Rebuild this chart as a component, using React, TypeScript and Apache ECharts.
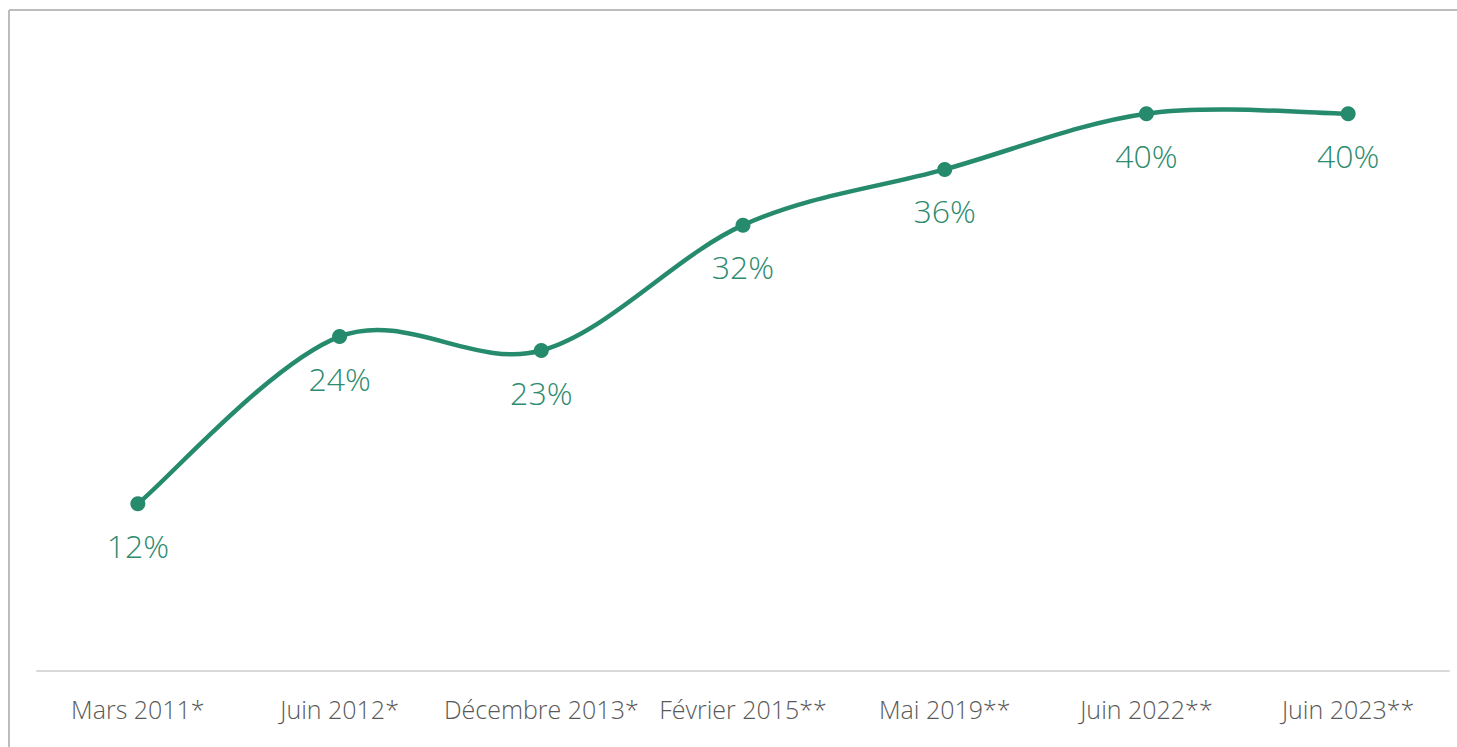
import React, { useEffect, useRef } from "react";
import * as echarts from "echarts";

const categories = ["Mars 2011*", "Juin 2012*", "Décembre 2013*", "Février 2015**", "Mai 2019**", "Juin 2022**", "Juin 2023**"];
const values = [12, 24, 23, 32, 36, 40, 40];

const GREEN = "#268a6d";

export default function App() {
  const ref = useRef<HTMLDivElement>(null);
  useEffect(() => {
    const chart = echarts.init(ref.current!, null, { renderer: "svg" });
    chart.setOption({
      animation: false,
      backgroundColor: "#ffffff",
      graphic: [
        { type: "line", shape: { x1: 9, y1: 10, x2: 1457, y2: 10 }, style: { stroke: "#bdbdbd", lineWidth: 2 } },
        { type: "line", shape: { x1: 9, y1: 10, x2: 9, y2: 747 }, style: { stroke: "#bdbdbd", lineWidth: 2 } },
      ],
      grid: { left: 37, right: 8, top: 44, bottom: 76 },
      xAxis: {
        type: "category",
        data: categories,
        boundaryGap: true,
        axisLine: { lineStyle: { color: "#d9d9d9", width: 2 } },
        axisTick: { show: false },
        axisLabel: { color: "#595959", fontSize: 25, fontFamily: "Open Sans", fontWeight: 300, margin: 25, interval: 0 },
      },
      yAxis: { type: "value", min: 0, max: 45, show: false, splitLine: { show: false } },
      series: [
        {
          type: "custom",
          data: values.map((v, i) => [i, v]),
          silent: true,
          z: 1,
          renderItem: (params: any, api: any) => {
            if (params.dataIndex !== 0) return null;
            const pts = values.map((v, i) => api.coord([i, v]));
            const n = pts.length;
            let d = `M${pts[0][0]},${pts[0][1]}`;
            for (let i = 0; i < n - 1; i++) {
              const p0 = pts[Math.max(0, i - 1)];
              const p1 = pts[i];
              const p2 = pts[i + 1];
              const p3 = pts[Math.min(n - 1, i + 2)];
              const c1x = p1[0] + (p2[0] - p0[0]) / 6;
              const c1y = p1[1] + (p2[1] - p0[1]) / 6;
              const c2x = p2[0] - (p3[0] - p1[0]) / 6;
              const c2y = p2[1] - (p3[1] - p1[1]) / 6;
              d += ` C${c1x},${c1y} ${c2x},${c2y} ${p2[0]},${p2[1]}`;
            }
            return {
              type: "path",
              shape: { pathData: d },
              style: { stroke: GREEN, lineWidth: 4.5, fill: "none", lineCap: "round" },
            };
          },
        },
        {
          type: "line",
          data: values,
          z: 2,
          symbol: "circle",
          symbolSize: 15,
          lineStyle: { opacity: 0 },
          itemStyle: { color: GREEN },
          label: {
            show: true,
            position: "bottom",
            distance: 18,
            formatter: "{c}%",
            color: "#2e8b6f",
            fontSize: 32,
            fontFamily: "Open Sans",
            fontWeight: 300,
          },
        },
      ],
    });
    return () => chart.dispose();
  }, []);
  return <div ref={ref} style={{ position: "absolute", left: 0, top: 0, width: 1457, height: 747 }} />;
}
